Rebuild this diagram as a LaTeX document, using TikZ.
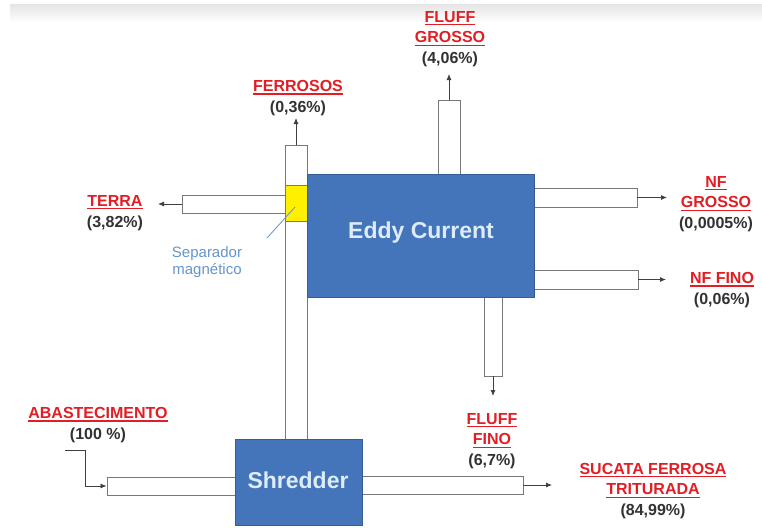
\documentclass[tikz,border=0pt]{standalone}
\usepackage{fontspec}
\setmainfont{Liberation Sans}
\usetikzlibrary{arrows.meta}
\definecolor{boxblue}{RGB}{68,116,186}
\definecolor{boxtext}{RGB}{222,236,250}
\definecolor{labred}{RGB}{226,30,36}
\definecolor{pctgray}{RGB}{50,50,50}
\definecolor{tubegray}{RGB}{120,120,120}
\definecolor{sepblue}{RGB}{100,150,205}
\definecolor{magyellow}{RGB}{255,240,0}
\tikzset{
  machine/.style={draw=boxblue!80!black, line width=0.6pt, fill=boxblue, text=boxtext,
    font=\fontsize{23}{27}\selectfont\bfseries, inner sep=0pt},
  tube/.style={draw=tubegray, line width=0.9pt, fill=white, inner sep=0pt},
  arr/.style={draw=black!75, line width=0.8pt, -{Latex[length=6pt,width=5pt]}},
  lab/.style={align=center, font=\fontsize{16}{20.5}\selectfont\bfseries, inner sep=0pt},
}
\newcommand{\rl}[1]{\textcolor{labred}{\leavevmode\vtop{\hbox{#1}\kern1.6pt\hrule height 1.3pt}}}
\newcommand{\pc}[1]{\textcolor{pctgray}{#1}}
\begin{document}
\begin{tikzpicture}[x=1pt,y=-1pt]
\useasboundingbox (0,0) rectangle (762,527);
\fill[white] (0,0) rectangle (762,527);
\shade[top color=black!10, bottom color=white] (10,5) rectangle (762,22);

% tubes
\node[tube, minimum width=22pt, minimum height=294pt] (tFer) at (296,292) {};
\node[tube, minimum width=103pt, minimum height=18pt] (tTerra) at (233.5,204) {};
\node[tube, minimum width=22pt, minimum height=74pt] (tFG) at (449,137) {};
\node[tube, minimum width=103pt, minimum height=19pt] (tNFG) at (585.5,197.5) {};
\node[tube, minimum width=104pt, minimum height=19pt] (tNFF) at (586,279.5) {};
\node[tube, minimum width=18pt, minimum height=79pt] (tFF) at (493,336.5) {};
\node[tube, minimum width=161pt, minimum height=18pt] (tSuc) at (442.5,485) {};
\node[tube, minimum width=128pt, minimum height=18pt] (tAb) at (171,486) {};

% magnetic separator
\node[draw=tubegray, line width=0.9pt, fill=magyellow, minimum width=22pt, minimum height=36pt, inner sep=0pt] (sep) at (296,203) {};

% machines
\node[machine, minimum width=227pt, minimum height=123pt] (eddy) at (420.5,235.5) {};
\node[font=\fontsize{23}{27}\selectfont\bfseries, text=boxtext, inner sep=0pt] (eddyT) at (421,233) {Eddy Current};
\node[machine, minimum width=127pt, minimum height=86pt] (shred) at (298.5,482) {};
\node[font=\fontsize{23}{27}\selectfont\bfseries, text=boxtext, inner sep=0pt] (shredT) at (298,480) {Shredder};

% labels
\node[lab] (lFer) at (298,98) {\rl{FERROSOS}\\\pc{(0,36\%)}};
\node[lab] (lTerra) at (115,213) {\rl{TERRA}\\\pc{(3,82\%)}};
\node[lab] (lFG) at (450,39) {\rl{FLUFF}\\\rl{GROSSO}\\\pc{(4,06\%)}};
\node[lab] (lNFG) at (716,204) {\rl{NF}\\\rl{GROSSO}\\\pc{(0,0005\%)}};
\node[lab] (lNFF) at (722,290) {\rl{NF FINO}\\\pc{(0,06\%)}};
\node[lab] (lFF) at (492,441) {\rl{FLUFF}\\\rl{FINO}\\\pc{(6,7\%)}};
\node[lab] (lSuc) at (653,491) {\rl{SUCATA FERROSA}\\\rl{TRITURADA}\\\pc{(84,99\%)}};
\node[lab] (lAb) at (98,425) {\rl{ABASTECIMENTO}\\\pc{(100 \%)}};
\node[align=center, font=\fontsize{15}{17}\selectfont, text=sepblue, inner sep=0pt] (lSep) at (207,262) {Separador\\magnético};

% arrow end points
\coordinate (aFer) at (296,118);
\coordinate (aTerra) at (158,204);
\coordinate (aFG) at (449,74);
\coordinate (aNFG) at (667,197.5);
\coordinate (aNFF) at (666,279.5);
\coordinate (aFF) at (493,396);
\coordinate (aSuc) at (552,485);
\coordinate (abStart) at (65,450);
\coordinate (abBend) at (85,450);
\coordinate (sepTail) at (267,238);
\coordinate (sepHead) at (295,207);

% connectors
\draw[arr] (tFer.north) -- (aFer);
\draw[arr] (tTerra.west) -- (aTerra);
\draw[arr] (tFG.north) -- (aFG);
\draw[arr] (tNFG.east) -- (aNFG);
\draw[arr] (tNFF.east) -- (aNFF);
\draw[arr] (tFF.south) -- (aFF);
\draw[arr] (tSuc.east) -- (aSuc);
\draw[arr] (abStart) -- (abBend) |- (tAb.west);
\draw[draw=sepblue!80!gray, line width=0.8pt] (sepTail) -- (sepHead);
\end{tikzpicture}
\end{document}
